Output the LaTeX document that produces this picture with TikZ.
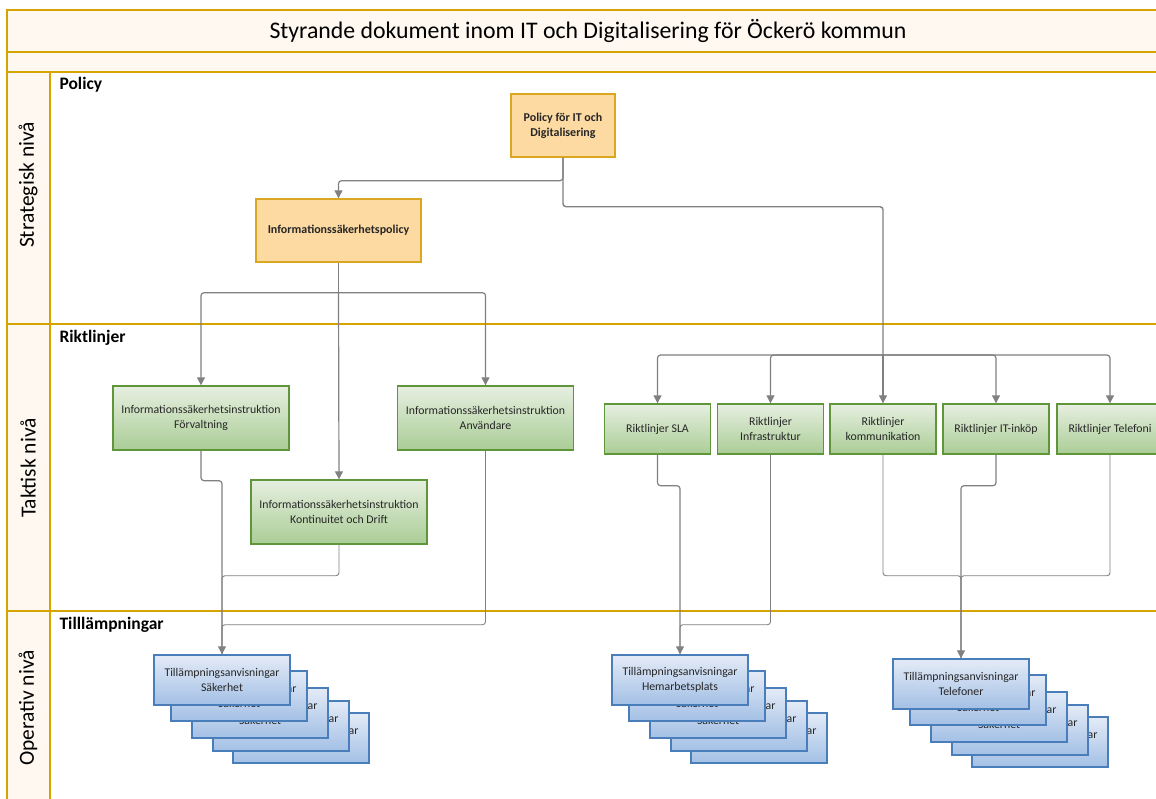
\documentclass[tikz,border=0pt]{standalone}
\usepackage{fontspec}
\setmainfont{Carlito}
\usepackage{tikz}
\usetikzlibrary{arrows.meta}
\definecolor{lanegold}{RGB}{214,164,0}
\definecolor{cream}{RGB}{254,248,240}
\definecolor{linegray}{RGB}{128,128,128}
\definecolor{polfill}{RGB}{253,218,162}
\definecolor{poledge}{RGB}{218,168,32}
\definecolor{greentop}{RGB}{230,239,224}
\definecolor{greenbot}{RGB}{170,205,150}
\definecolor{greenedge}{RGB}{96,150,58}
\definecolor{bluetop}{RGB}{228,235,247}
\definecolor{bluebot}{RGB}{163,192,229}
\definecolor{blueedge}{RGB}{74,126,187}
\definecolor{boxtext}{RGB}{38,38,38}
\tikzstyle{lane} = [draw=lanegold, line width=1.6pt]
\tikzstyle{conn} = [draw=linegray, line width=0.9pt, rounded corners=3pt]
\tikzstyle{trunk} = [conn, line width=1.4pt]
\tikzstyle{arrow} = [conn, line width=1.2pt, -{Triangle[length=8pt,width=8pt]}]
\tikzstyle{polbox} = [rectangle, draw=poledge, line width=1.4pt, fill=polfill, align=center, text=boxtext, font=\fontsize{12}{15}\selectfont\bfseries]
\tikzstyle{grbox} = [rectangle, draw=greenedge, line width=1.4pt, top color=greentop, bottom color=greenbot, align=center, text=boxtext, font=\fontsize{11.8}{14.5}\selectfont, minimum width=176pt, minimum height=64pt]
\tikzstyle{rlbox} = [grbox, minimum width=106pt, minimum height=50pt]
\tikzstyle{tbox} = [rectangle, draw=blueedge, line width=1.4pt, top color=bluetop, bottom color=bluebot, align=center, text=boxtext, font=\fontsize{11.8}{14.5}\selectfont, minimum width=136pt, minimum height=50pt]
\tikzstyle{lanelabel} = [rotate=90, font=\fontsize{21.5}{24}\selectfont]
\tikzstyle{section} = [anchor=west, font=\fontsize{17.5}{20}\selectfont\bfseries]

\begin{document}
\begin{tikzpicture}[x=1pt, y=-1pt]
        \useasboundingbox (0,0) rectangle (1156,798);
        \clip (0,0) rectangle (1156,798);

        % swimlane frame
        \fill[cream] (7,10) rectangle (1160,72);
        \fill[cream] (7,72) rectangle (50,800);
        \draw[lane] (1160,10) -- (7,10) -- (7,800);
        \draw[lane] (7,52) -- (1160,52);
        \draw[lane] (7,72) -- (1160,72);
        \draw[lane] (50,72) -- (50,800);
        \draw[lane] (7,324) -- (1160,324);
        \draw[lane] (7,611) -- (1160,611);

        \node (title) at (588,31) {\fontsize{23.8}{26}\selectfont Styrande dokument inom IT och Digitalisering för Öckerö kommun};
        \node[lanelabel] (strat) at (28,185) {Strategisk nivå};
        \node[lanelabel] (takt) at (28,468) {Taktisk nivå};
        \node[lanelabel] (oper) at (28,708) {Operativ nivå};
        \node[section] (policy) at (56,85) {Policy};
        \node[section] (riktl) at (56,338) {Riktlinjer};
        \node[section] (tillamp) at (56,625) {Tilllämpningar};

        % policy level
        \node (pol) [polbox, minimum width=104pt, minimum height=63pt] at (563,125.5) {Policy för IT och\\Digitalisering};
        \node (isp) [polbox, minimum width=165pt, minimum height=63pt] at (338.5,230.5) {Informationssäkerhetspolicy};

        % riktlinjer level
        \node (forv) [grbox] at (201,418) {Informationssäkerhetsinstruktion\\Förvaltning};
        \node (anv) [grbox] at (485.5,418) {Informationssäkerhetsinstruktion\\Användare};
        \node (kont) [grbox] at (339,512) {Informationssäkerhetsinstruktion\\Kontinuitet och Drift};
        \node (sla) [rlbox] at (657.5,429) {Riktlinjer SLA};
        \node (infra) [rlbox] at (770.5,429) {Riktlinjer\\Infrastruktur};
        \node (komm) [rlbox] at (883,429) {Riktlinjer\\kommunikation};
        \node (itk) [rlbox] at (996,429) {Riktlinjer IT-inköp};
        \node (tel) [rlbox] at (1110,429) {Riktlinjer Telefoni};

        % tillampningar, stacked cards
        \foreach \dx/\dy/\k in {79/58/4,59/46/3,38/33/2,17/16/1} {
            \node (sak\k) [tbox] at (222+\dx,680+\dy) {Tillämpningsanvisningar\\Säkerhet};
            \node (hem\k) [tbox] at (680+\dx,680+\dy) {Tillämpningsanvisningar\\Säkerhet};
            \node (tfn\k) [tbox] at (961+\dx,684+\dy) {Tillämpningsanvisningar\\Säkerhet};
        }
        \node (sak) [tbox] at (222,680) {Tillämpningsanvisningar\\Säkerhet};
        \node (hem) [tbox] at (680,680) {Tillämpningsanvisningar\\Hemarbetsplats};
        \node (tfn) [tbox] at (961,684) {Tillämpningsanvisningar\\Telefoner};

        % connectors
        \coordinate (rl) at (883,355);
        \draw [arrow] (pol.south) -- ++(0,23) -| (isp.north);
        \draw [trunk] (pol.south) -- ++(0,49) -| (rl);
        \foreach \n in {sla,infra,itk,tel}
            \draw [arrow] (rl) -| (\n.north);
        \draw [arrow] (rl) -- (komm.north);

        \draw [trunk] (isp.south) -- ++(0,30) coordinate (ij);
        \draw [arrow] (ij) -| (forv.north);
        \draw [arrow] (ij) -| (anv.north);
        \draw [arrow] (ij) -- (kont.north);

        \draw [arrow] (forv.south) -- ++(0,30) -| (sak.north);
        \draw [conn] (kont.south) -- ++(0,31) -| (sak.north);
        \draw [conn] (anv.south) -- ++(0,174) -| (sak.north);
        \draw [arrow] (sla.south) -- ++(0,31) -| (hem.north);
        \draw [conn] (infra.south) -- ++(0,170) -| (hem.north);
        \draw [arrow] (itk.south) -- ++(0,31) -| (tfn.north);
        \draw [conn] (komm.south) -- ++(0,121) -| (tfn.north);
        \draw [conn] (tel.south) -- ++(0,121) -| (tfn.north);
    \end{tikzpicture}
\end{document}
